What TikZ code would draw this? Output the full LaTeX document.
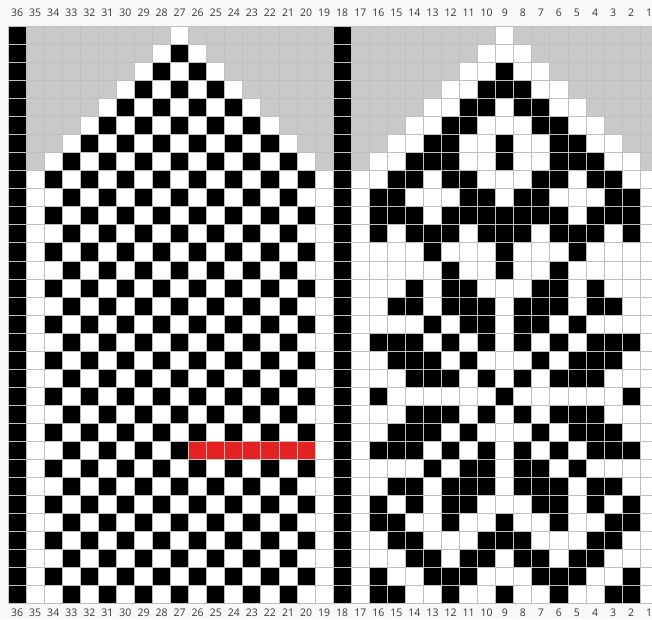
\documentclass[tikz,border=0pt]{standalone}
\usepackage{fontspec}
\setmainfont{Open Sans}
\definecolor{pagebg}{RGB}{248,248,248}
\definecolor{gridline}{RGB}{192,192,192}
\definecolor{grayfill}{RGB}{201,201,201}
\definecolor{markred}{RGB}{228,34,34}
\definecolor{labeltext}{RGB}{55,55,55}
% one chart cell: column (36..1), row (1..32), colour
\newcommand{\knitcell}[3]{\fill[#3] ({8.1+(36-#1)*18.06},{26.7+(#2-1)*18.02}) rectangle ++(18.06,18.02);}
\begin{document}
\begin{tikzpicture}[x=1pt, y=-1pt,
    collabel/.style={font=\fontsize{10.5}{12}\selectfont, text=labeltext, inner sep=0pt}]
    \clip (0,0) rectangle (652,619);
    \fill[pagebg] (0,0) rectangle (652,619);
    \fill[white] (8.1,26.7) rectangle ++({36*18.06},{32*18.02});

    % edge columns 36 and 18
    \foreach \r in {1,...,32} {
        \knitcell{36}{\r}{black}
        \knitcell{18}{\r}{black}
    }

    % left panel: checkerboard under a grey top
    \foreach \r in {1,...,32} {
        \foreach \c in {19,...,35} {
            \pgfmathtruncatemacro{\d}{abs(\c-27)}
            \pgfmathtruncatemacro{\odd}{mod(\r+\c,2)}
            \ifnum\d<\r
                \ifnum\c>19 \ifnum\c<35 \ifnum\odd=1 \knitcell{\c}{\r}{black}\fi\fi\fi
            \else
                \knitcell{\c}{\r}{grayfill}
            \fi
        }
    }
    \foreach \c in {20,...,26} {
        \knitcell{\c}{24}{markred}
    }

    % right panel: grey top
    \foreach \r in {1,...,8} {
        \foreach \c in {1,...,17} {
            \pgfmathtruncatemacro{\d}{abs(\c-9)}
            \ifnum\d<\r \else \knitcell{\c}{\r}{grayfill}\fi
        }
    }
    % right panel: motif, black stitches per row
    \foreach \r/\cols in {
        3/{9}, 4/{10,9,8}, 5/{11,10,8,7}, 6/{12,11,7,6},
        7/{13,12,9,6,5}, 8/{14,13,12,9,6,5,4},
        9/{15,14,12,11,7,6,4,3}, 10/{16,15,11,10,8,7,3,2},
        11/{16,15,14,12,11,10,9,8,7,6,4,3,2}, 12/{16,14,13,12,10,9,8,6,5,4,2},
        13/{13,9,5}, 14/{12,9,6}, 15/{14,12,11,7,6,4},
        16/{15,14,12,11,10,8,7,6,4,3}, 17/{13,11,10,8,7,5},
        18/{16,15,14,12,10,8,6,4,3,2}, 19/{15,14,13,11,7,5,4,3},
        20/{14,13,12,10,8,6,5,4}, 21/{16,9,2},
        22/{14,13,12,10,8,6,5,4}, 23/{15,14,13,11,7,5,4,3},
        24/{16,15,14,12,10,8,6,4,3,2}, 25/{13,11,10,8,7,5},
        26/{15,14,12,11,10,8,7,6,4,3}, 27/{16,14,12,11,7,6,4,2},
        28/{16,15,12,9,6,3,2}, 29/{15,14,10,9,8,4,3},
        30/{14,13,11,10,8,7,5,4}, 31/{16,13,12,11,7,6,5,2},
        32/{16,15,12,9,6,3,2}} {
        \foreach \c in \cols {
            \knitcell{\c}{\r}{black}
        }
    }

    % grid lines
    \foreach \k in {0,...,36} {
        \draw[gridline, line width=0.9pt] ({8.1+\k*18.06},26.7) -- ++(0,{32*18.02});
    }
    \foreach \k in {0,...,32} {
        \draw[gridline, line width=0.9pt] (8.1,{26.7+\k*18.02}) -- ++({36*18.06},0);
    }

    % column numbers
    \foreach \c in {1,...,36} {
        \node[collabel] (top\c) at ({8.1+(36-\c)*18.06+9.03},13) {\c};
        \node[collabel] (bot\c) at ({8.1+(36-\c)*18.06+9.03},612.5) {\c};
    }
\end{tikzpicture}
\end{document}
